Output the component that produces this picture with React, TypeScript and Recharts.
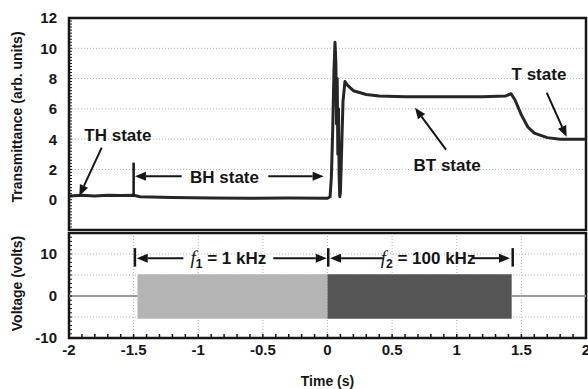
import React from "react";
import {
  ComposedChart,
  Line,
  Area,
  XAxis,
  YAxis,
  CartesianGrid,
  ReferenceArea,
  ReferenceLine,
  ReferenceDot,
} from "recharts";

// transmittance trace
const transTime = [
  -2, -1.9, -1.8, -1.7, -1.6, -1.5, -1.45, -1.2, -0.9, -0.6, -0.3, 0, 0.02,
  0.03, 0.04, 0.05, 0.058, 0.065, 0.07, 0.075, 0.08, 0.085, 0.09, 0.095, 0.1,
  0.11, 0.12, 0.135, 0.15, 0.2, 0.3, 0.4, 0.6, 0.8, 1.0, 1.2, 1.38, 1.42,
  1.45, 1.5, 1.55, 1.6, 1.7, 1.8, 2,
];
const transValue = [
  0.25, 0.3, 0.25, 0.3, 0.28, 0.3, 0.2, 0.15, 0.12, 0.1, 0.12, 0.1, 0.2, 1.5,
  4.5, 8.5, 10.4, 9.0, 5.0, 8.0, 3.0, 6.0, 1.5, 0.2, 0.5, 3.5, 6.5, 7.8, 7.6,
  7.2, 6.95, 6.85, 6.8, 6.8, 6.8, 6.8, 6.85, 7.0, 6.6, 5.6, 4.8, 4.4, 4.1,
  4.0, 4.0,
];

// voltage bursts (envelope of the drive signal)
const burstStart = [-1.47, 0];
const burstEnd = [0, 1.425];
const burstHigh = [5.2, 5.2];
const burstLow = [-5.4, -5.4];

// idle 0 V before / after the bursts
const idleStart = [-2, 1.425];
const idleEnd = [-1.47, 2];
const idleLevel = 0;

const xLabels = [-2, -1.5, -1, -0.5, 0, 0.5, 1, 1.5, 2];
const transLabels = [0, 2, 4, 6, 8, 10, 12];
const voltLabels = [-10, 0, 10];

const r1 = (v: number) => Math.round(v * 10) / 10;
const xMinor = Array.from({ length: 41 }, (_, i) => r1(-2 + i * 0.1));
const transMinor = Array.from({ length: 71 }, (_, i) => r1(-2 + i * 0.2));
const voltMinor = Array.from({ length: 26 }, (_, i) => -10 + i);

const transData = transTime.map((t, i) => ({ t, T: transValue[i] }));
const burstData = burstStart.map((s, i) => [
  { t: s, v: [burstLow[i], burstHigh[i]] },
  { t: burstEnd[i], v: [burstLow[i], burstHigh[i]] },
]);
const idleData = idleStart.map((s, i) => [
  { t: s, v: idleLevel },
  { t: idleEnd[i], v: idleLevel },
]);

const INK = "#161616";
const FONT = '"Liberation Sans", Arial, sans-serif';

// annotation geometry (data coords)
const topArrows = [
  [-1.747, 3.44, -1.92, 0.25],
  [-1.128, 1.55, -1.49, 1.55],
  [-0.458, 1.55, -0.03, 1.55],
  [0.917, 3.31, 0.677, 6.07],
  [1.696, 7.07, 1.85, 4.15],
];
const topTexts: [string, number, number][] = [
  ["TH state", -1.622, 4.3],
  ["BH state", -0.797, 1.54],
  ["BT state", 0.925, 2.28],
  ["T state", 1.636, 8.34],
];
const botArrows = [
  [-1.115, 9, -1.476, 9],
  [-0.42, 9, -0.006, 9],
  [0.43, 9, 0.02, 9],
  [1.123, 9, 1.412, 9],
];
const botBars = [-1.49, 0.006, 1.433];

const arrowShape = (p: any) => {
  const { x1, y1, x2, y2 } = p;
  const dx = x2 - x1;
  const dy = y2 - y1;
  const len = Math.hypot(dx, dy) || 1;
  const ux = dx / len;
  const uy = dy / len;
  const hl = 11;
  const hw = 4.5;
  const bx = x2 - ux * hl;
  const by = y2 - uy * hl;
  return (
    <g>
      <line x1={x1} y1={y1} x2={bx} y2={by} stroke={INK} strokeWidth={2} />
      <polygon
        points={`${x2},${y2} ${bx - uy * hw},${by + ux * hw} ${bx + uy * hw},${by - ux * hw}`}
        fill={INK}
      />
    </g>
  );
};

const isLabel = (labels: number[], v: number) =>
  labels.some((l) => Math.abs(l - v) < 1e-6);

const yTick = (labels: number[]) => (p: any) => {
  const v = p.payload.value;
  if (!isLabel(labels, v)) return <g />;
  return (
    <text x={p.x} y={p.y} dy="0.36em" textAnchor="end" fontSize={15} fontWeight="bold" fill={INK} fontFamily={FONT}>
      {v}
    </text>
  );
};

const xTick = (p: any) => {
  const v = p.payload.value;
  if (!isLabel(xLabels, v)) return <g />;
  return (
    <text x={p.x} y={p.y} dy="0.71em" textAnchor="middle" fontSize={15} fontWeight="bold" fill={INK} fontFamily={FONT}>
      {v}
    </text>
  );
};

const yTitle = (text: string, shift: number) => (p: any) => {
  const vb = p.viewBox;
  const cx = 17;
  const cy = vb.y + vb.height / 2 + shift;
  return (
    <text x={cx} y={cy} transform={`rotate(-90 ${cx} ${cy})`} textAnchor="middle" dy="0.36em" fontSize={14} fontWeight="bold" fill={INK} fontFamily={FONT}>
      {text}
    </text>
  );
};

const textShape = (label: string) => (p: any) => (
  <text x={p.cx} y={p.cy} dy="0.36em" textAnchor="middle" fontSize={17} fontWeight="bold" fill={INK} fontFamily={FONT}>
    {label}
  </text>
);

const freqShape = (sub: string, rest: string) => (p: any) => (
  <text x={p.cx} y={p.cy} dy="0.36em" textAnchor="middle" fontSize={17} fontWeight="bold" fill={INK} fontFamily={FONT}>
    <tspan fontStyle="italic" fontWeight="normal" fontFamily='"Liberation Serif", serif' fontSize={19}>f</tspan>
    <tspan fontSize={12} dy={4}>{sub}</tspan>
    <tspan dy={-4}>{rest}</tspan>
  </text>
);

const gridX = [-1.5, -1, -0.5, 0, 0.5, 1, 1.5];

export default function App() {
  return (
    <div style={{ position: "absolute", left: 0, top: 0, width: 588, height: 389, background: "#fff", fontFamily: FONT }}>
      <div style={{ position: "absolute", left: 0, top: 0 }}>
        <ComposedChart width={588} height={231} margin={{ top: 18, right: 2, bottom: 1, left: 0 }}>
          <CartesianGrid verticalValues={gridX} horizontalValues={[2, 4, 6, 8, 10]} stroke="#b3b3b3" strokeDasharray="1 2" />
          <XAxis
            type="number"
            dataKey="t"
            domain={[-2, 2]}
            ticks={xMinor}
            interval={0}
            tick={false}
            tickSize={-4}
            height={0}
            axisLine={false}
            tickLine={{ stroke: INK, strokeWidth: 1.5 }}
          />
          <YAxis
            type="number"
            domain={[-2, 12]}
            ticks={transMinor}
            interval={0}
            width={69}
            tickSize={-3}
            tickMargin={15}
            axisLine={false}
            tickLine={{ stroke: INK, strokeWidth: 1 }}
            tick={yTick(transLabels)}
            label={{ content: yTitle("Transmittance (arb. units)", -7) }}
          />
          <ReferenceArea x1={-2} x2={2} y1={-2} y2={12} fill="none" stroke={INK} strokeWidth={2.5} ifOverflow="visible" />
          <Line
            data={transData}
            dataKey="T"
            type="linear"
            stroke="#262626"
            strokeWidth={3}
            strokeLinejoin="round"
            dot={false}
            isAnimationActive={false}
          />
          <ReferenceLine segment={[{ x: -1.5, y: 0.25 }, { x: -1.5, y: 2.45 }]} stroke={INK} strokeWidth={2.5} />
          {topArrows.map((a, i) => (
            <ReferenceLine key={"ta" + i} segment={[{ x: a[0], y: a[1] }, { x: a[2], y: a[3] }]} shape={arrowShape} />
          ))}
          {topTexts.map(([s, x, y]) => (
            <ReferenceDot key={s} x={x} y={y} r={0} shape={textShape(s)} />
          ))}
        </ComposedChart>
      </div>
      <div style={{ position: "absolute", left: 0, top: 231 }}>
        <ComposedChart width={588} height={158} margin={{ top: 2, right: 2, bottom: 0, left: 0 }}>
          <CartesianGrid verticalValues={gridX} horizontalValues={[-5, 5, 10]} stroke="#b3b3b3" strokeDasharray="1 2" />
          <XAxis
            type="number"
            dataKey="t"
            domain={[-2, 2]}
            ticks={xMinor}
            interval={0}
            tickSize={-4}
            tickMargin={10}
            height={51}
            axisLine={false}
            tickLine={{ stroke: INK, strokeWidth: 1.5 }}
            tick={xTick}
            label={{
              content: (p: any) => (
                <text x={p.viewBox.x + p.viewBox.width / 2} y={386} textAnchor="middle" fontSize={14} fontWeight="bold" fill={INK} fontFamily={FONT} transform="translate(0,-231)">
                  Time (s)
                </text>
              ),
            }}
          />
          <YAxis
            type="number"
            domain={[-10, 15]}
            ticks={voltMinor}
            interval={0}
            width={69}
            tickSize={-3}
            tickMargin={15}
            axisLine={false}
            tickLine={{ stroke: INK, strokeWidth: 1 }}
            tick={yTick(voltLabels)}
            label={{ content: yTitle("Voltage (volts)", -2) }}
          />
          <ReferenceArea x1={-2} x2={2} y1={-10} y2={15} fill="none" stroke={INK} strokeWidth={2.5} ifOverflow="visible" />
          {idleData.map((d, i) => (
            <Line key={"idle" + i} data={d} dataKey="v" type="linear" stroke="#9c9c9c" strokeWidth={2} dot={false} isAnimationActive={false} />
          ))}
          <Area data={burstData[0]} dataKey="v" type="linear" fill="#b4b4b4" fillOpacity={1} stroke="none" isAnimationActive={false} />
          <Area data={burstData[1]} dataKey="v" type="linear" fill="#555555" fillOpacity={1} stroke="none" isAnimationActive={false} />
          {botBars.map((b) => (
            <ReferenceLine key={"bb" + b} segment={[{ x: b, y: 7 }, { x: b, y: 11.4 }]} stroke={INK} strokeWidth={2.5} />
          ))}
          {botArrows.map((a, i) => (
            <ReferenceLine key={"ba" + i} segment={[{ x: a[0], y: a[1] }, { x: a[2], y: a[3] }]} shape={arrowShape} />
          ))}
          <ReferenceDot x={-0.767} y={9} r={0} shape={freqShape("1", " = 1 kHz")} />
          <ReferenceDot x={0.778} y={9} r={0} shape={freqShape("2", " = 100 kHz")} />
        </ComposedChart>
      </div>
    </div>
  );
}
